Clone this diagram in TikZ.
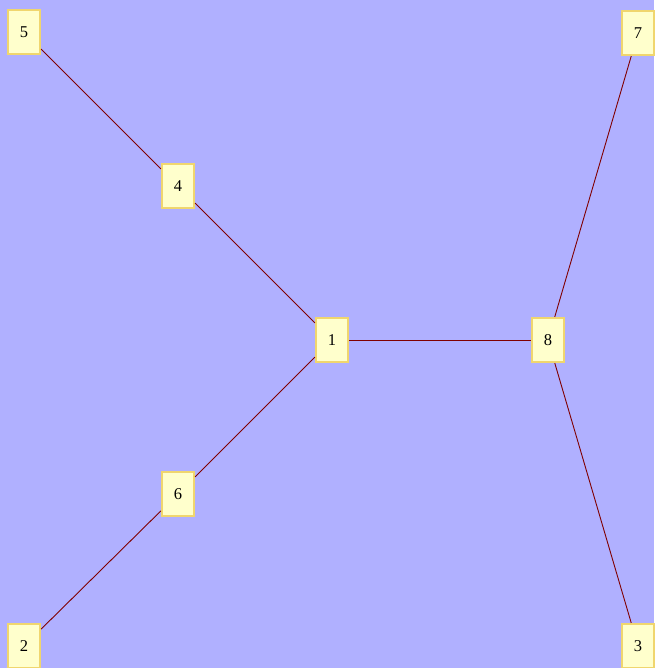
\documentclass[tikz,border=0pt]{standalone}
\usepackage{fontspec}
\setmainfont{Liberation Serif}
\usepackage{tikz}
\definecolor{bgc}{RGB}{176,176,255}
\definecolor{vertexc}{RGB}{255,255,204}
\definecolor{rimc}{RGB}{240,214,110}
\definecolor{linkc}{RGB}{128,0,0}
\tikzset{
  vertex/.style = {draw=rimc, line width=2.2pt, fill=vertexc, minimum width=32pt,
                   minimum height=44pt, inner sep=0pt, font=\fontsize{16.5}{16.5}\selectfont},
  link/.style   = {draw=linkc, line width=0.9pt},
}

\begin{document}
\begin{tikzpicture}[x=1pt,y=1pt]

% --- canvas -------------------------------------------------------------
\fill[bgc] (0,0) rectangle (654,668);
\useasboundingbox (0,0) rectangle (654,668);

% --- vertices -----------------------------------------------------------
\node[vertex] (n1) at (332,328) {1};
\node[vertex] (n8) at (548,328) {8};
\node[vertex] (n4) at (178,482) {4};
\node[vertex] (n5) at (24,636)  {5};
\node[vertex] (n6) at (178,174) {6};
\node[vertex] (n2) at (24,22)   {2};
\node[vertex] (n7) at (638,635) {7};
\node[vertex] (n3) at (638,22)  {3};

% --- edges --------------------------------------------------------------
\draw[link] (n1) -- (n8);
\draw[link] (n1) -- (n4);
\draw[link] (n4) -- (n5);
\draw[link] (n1) -- (n6);
\draw[link] (n6) -- (n2);
\draw[link] (n8) -- (n7);
\draw[link] (n8) -- (n3);

\end{tikzpicture}
\end{document}
